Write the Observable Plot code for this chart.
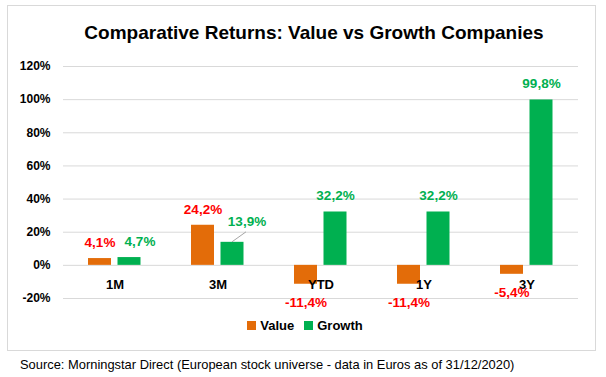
<!DOCTYPE html>
<html>
<head>
<meta charset="utf-8">
<script src="https://cdn.jsdelivr.net/npm/d3@7"></script>
<script src="https://cdn.jsdelivr.net/npm/@observablehq/plot@0.6"></script>
<style>
  html, body { margin: 0; padding: 0; background: #fff; }
  body { width: 606px; height: 377px; position: relative; overflow: hidden; font-family: "Liberation Sans", Arial, sans-serif; }
  #frame { position: absolute; left: 7px; top: 5px; width: 589px; height: 346px; border: 1px solid #d9d9d9; box-sizing: border-box; }
  #title { position: absolute; left: 0; width: 628px; top: 21px; line-height: 24px; text-align: center; font-size: 19px; font-weight: bold; color: #000; }
  #chart { position: absolute; left: 0; top: 50px; }
  #legend { position: absolute; left: 0; width: 610px; top: 318px; line-height: 16px; text-align: center; font-size: 13px; font-weight: bold; color: #000; }
  #legend .item { display: inline-block; margin: 0 5px; }
  #legend .sw { display: inline-block; width: 9px; height: 9px; margin-right: 4px; vertical-align: 0px; }
  #source { position: absolute; left: 20px; top: 357px; line-height: 16px; font-size: 12.9px; color: #000; }
</style>
</head>
<body>
<div id="frame"></div>
<div id="title">Comparative Returns: Value vs Growth Companies</div>
<div id="chart"></div>
<div id="legend"></div>
<div id="source">Source: Morningstar Direct (European stock universe - data in Euros as of 31/12/2020)</div>
<script>
const categories = ["1M", "3M", "YTD", "1Y", "3Y"];
const valueReturns = [4.1, 24.2, -11.4, -11.4, -5.4];
const growthReturns = [4.7, 13.9, 32.2, 32.2, 99.8];
const seriesNames = ["Value", "Growth"];
const barColors = ["#E36C09", "#00B050"];
const labelColors = ["#FF0000", "#00B050"];
const yTicks = [-20, 0, 20, 40, 60, 80, 100, 120];

const valueRows = categories.map((c, i) => ({cat: c, v: valueReturns[i]}));
const growthRows = categories.map((c, i) => ({cat: c, v: growthReturns[i]}));
const fmt = d => d.v.toFixed(1).replace(".", ",") + "%";

const labelFont = {fontSize: 13.5, fontWeight: "bold", textAnchor: "middle"};

function leader(index, scales) {
  const sx = scales.x, sy = scales.y;
  const bw = typeof sx.bandwidth === "function" ? sx.bandwidth() : sx.bandwidth;
  const row = growthRows[1];
  const x0 = sx(row.cat) + bw / 2 + 14.5;
  const y0 = sy(row.v);
  const line = d3.create("svg:line")
    .attr("x1", x0).attr("y1", y0)
    .attr("x2", x0 + 14).attr("y2", y0 - 10)
    .attr("stroke", "#a6a6a6").attr("stroke-width", 1);
  return line.node();
}

const chart = Plot.plot({
  width: 606,
  height: 260,
  marginLeft: 63,
  marginRight: 28,
  marginTop: 16,
  marginBottom: 12,
  style: {fontFamily: "'Liberation Sans', Arial, sans-serif", background: "transparent", overflow: "visible"},
  x: {domain: categories, padding: 0, axis: null},
  y: {domain: [-20, 120], ticks: yTicks},
  marks: [
    Plot.ruleY(yTicks, {stroke: "#d9d9d9", strokeWidth: 1}),
    Plot.axisY({ticks: yTicks, tickSize: 0, tickPadding: 13, tickFormat: d => d + "%", fontSize: 12, fontWeight: "bold", label: null, fill: "#000"}),
    Plot.barY(valueRows, {x: "cat", y: "v", fill: barColors[0], dx: -15, insetLeft: 40, insetRight: 40}),
    Plot.barY(growthRows, {x: "cat", y: "v", fill: barColors[1], dx: 14.5, insetLeft: 40, insetRight: 40}),
    Plot.text(categories, {x: d => d, y: d => 0, dy: 19, text: d => d, fontSize: 13, fontWeight: "bold", fill: "#000"}),
    // Value labels
    Plot.text(valueRows.filter(d => d.v >= 0), {x: "cat", y: "v", text: fmt, dx: -15, dy: -16, fill: labelColors[0], ...labelFont}),
    Plot.text(valueRows.filter(d => d.v < 0), {x: "cat", y: "v", text: fmt, dx: -15, dy: 18, fill: labelColors[0], ...labelFont}),
    // Growth labels
    Plot.text(growthRows.filter(d => d.cat === "1M"), {x: "cat", y: "v", text: fmt, dx: 25, dy: -16, fill: labelColors[1], ...labelFont}),
    Plot.text(growthRows.filter(d => d.cat === "3M"), {x: "cat", y: "v", text: fmt, dx: 29, dy: -21, fill: labelColors[1], ...labelFont}),
    Plot.text(growthRows.filter(d => d.cat !== "1M" && d.cat !== "3M"), {x: "cat", y: "v", text: fmt, dx: 14.5, dy: -16, fill: labelColors[1], ...labelFont}),
    leader
  ]
});
document.getElementById("chart").appendChild(chart);

const legend = document.getElementById("legend");
seriesNames.forEach((name, i) => {
  const item = document.createElement("span");
  item.className = "item";
  const sw = document.createElement("span");
  sw.className = "sw";
  sw.style.background = barColors[i];
  item.appendChild(sw);
  item.appendChild(document.createTextNode(name));
  legend.appendChild(item);
});
</script>
</body>
</html>
